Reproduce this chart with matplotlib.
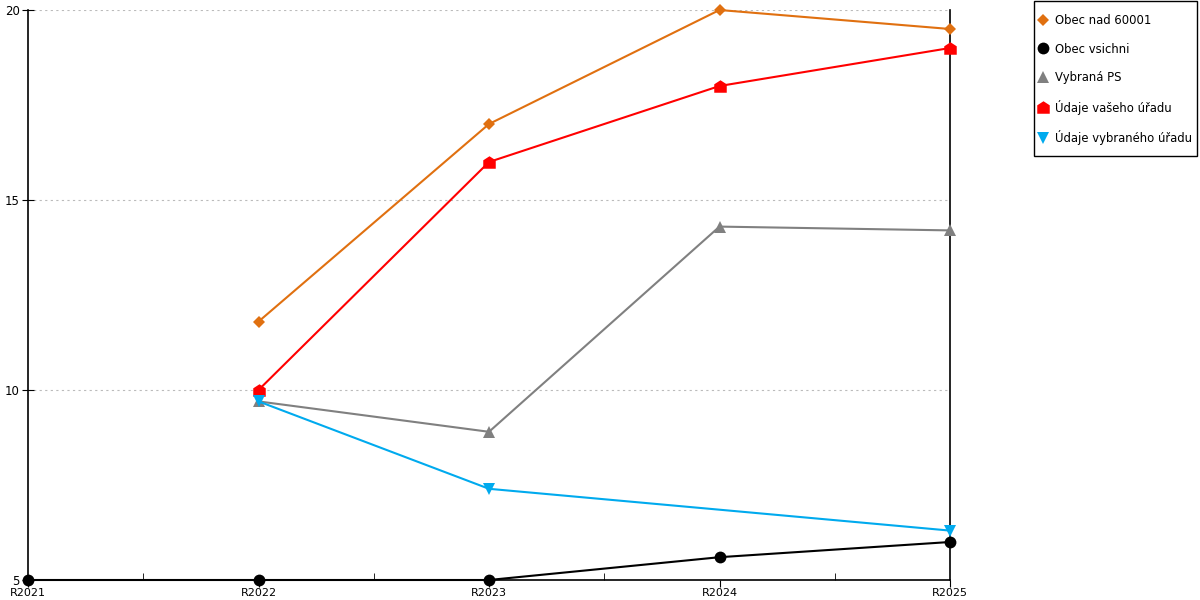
import numpy as np
import matplotlib
matplotlib.use("Agg")
import matplotlib.pyplot as plt
from matplotlib.path import Path
from matplotlib.patches import Rectangle

# Data
roky = ["R2021", "R2022", "R2023", "R2024", "R2025"]
obec_nad_60001 = [np.nan, 11.8, 17.0, 20.0, 19.5]
obec_vsichni = [5.0, 5.0, 5.0, 5.6, 6.0]
vybrana_ps = [np.nan, 9.7, 8.9, 14.3, 14.2]
udaje_vaseho = [np.nan, 10.0, 16.0, 18.0, 19.0]
udaje_vybraneho = [np.nan, 9.7, 7.4, np.nan, 6.3]

# Marker ve tvaru domečku
domecek = Path([(-1, -1), (1, -1), (1, 0.35), (0, 1), (-1, 0.35), (-1, -1)],
               [Path.MOVETO, Path.LINETO, Path.LINETO, Path.LINETO, Path.LINETO, Path.CLOSEPOLY])

serie = [
    ("Obec nad 60001", obec_nad_60001, "#e07010", "D", 6.5),
    ("Obec vsichni", obec_vsichni, "#000000", "o", 8.5),
    ("Vybraná PS", vybrana_ps, "#808080", "^", 8.5),
    ("Údaje vašeho úřadu", udaje_vaseho, "#ff0000", domecek, 9),
    ("Údaje vybraného úřadu", udaje_vybraneho, "#00aaee", "v", 8.5),
]

plt.rcParams['font.family'] = ['DejaVu Sans']

fig = plt.figure(figsize=(12, 6), dpi=100)
ax = fig.add_axes([28 / 1200, 20 / 600, 922 / 1200, 570 / 600])

x = np.arange(len(roky))
for nazev, hodnoty, barva, znak, vel in serie:
    h = np.array(hodnoty, dtype=float)
    m = ~np.isnan(h)
    ax.plot(x[m], h[m], color=barva, lw=1.5, marker=znak, markersize=vel,
            markeredgewidth=0, label=nazev, zorder=3, clip_on=False)

ax.set_xlim(0, 4)
ax.set_ylim(5, 20)
ax.set_xticks(x)
ax.set_xticklabels(roky)
ax.set_xticks(x[:-1] + 0.5, minor=True)
ax.set_yticks([5, 10, 15, 20])
ax.tick_params(axis='x', which='major', direction='out', length=5, labelsize=8, pad=1)
ax.tick_params(axis='x', which='minor', direction='in', length=5)
ax.tick_params(axis='y', direction='inout', length=8, labelsize=8.5, pad=2)
ax.yaxis.grid(True, linestyle=(0, (2, 3)), color='#bbbbbb', lw=0.8)
ax.set_axisbelow(True)
ax.spines['top'].set_visible(False)
for s in ['left', 'bottom', 'right']:
    ax.spines[s].set_linewidth(1.2)
    ax.spines[s].set_color('black')

# legenda bez rámečku + vlastní rámeček
leg = fig.legend(handles=[l for l in ax.get_lines()], loc='upper left',
                 bbox_to_anchor=(1040 / 1200, 1 - 14 / 600), fontsize=8.4,
                 frameon=False, handlelength=0.5, handletextpad=0.8,
                 labelspacing=1.33, borderpad=0, borderaxespad=0)
for h in leg.legend_handles:
    h.set_linestyle('')
fig.patches.append(Rectangle((1034 / 1200, 1 - 156 / 600), 163 / 1200, 155 / 600,
                             transform=fig.transFigure, fill=False,
                             edgecolor='black', lw=1.0))

fig.savefig("out.png", dpi=100)
